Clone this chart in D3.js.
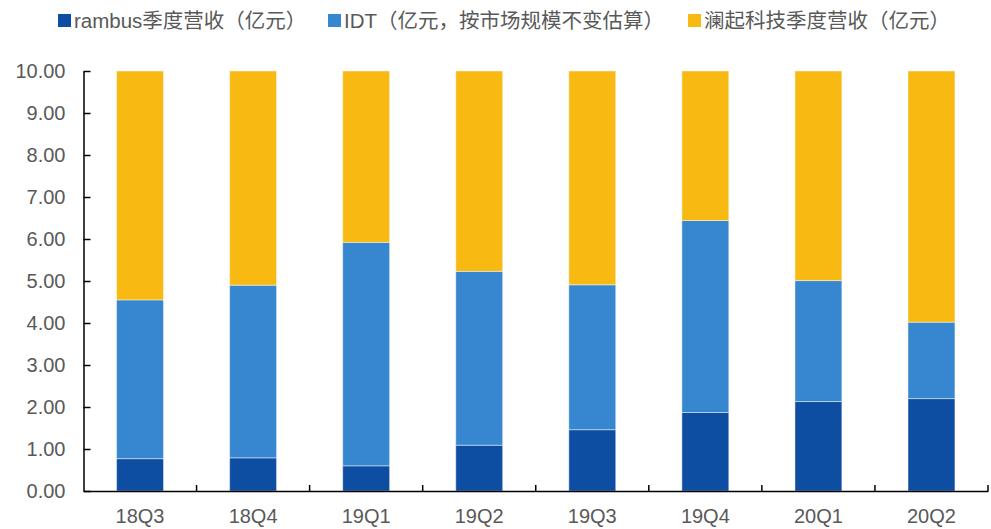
<!DOCTYPE html>
<html>
<head>
<meta charset="utf-8">
<script src="https://cdn.jsdelivr.net/npm/d3@7"></script>
<style>
  body { margin: 0; background: #fff; }
  svg { font-family: "Liberation Sans", Arial, "Noto Sans CJK SC", sans-serif; }
</style>
</head>
<body>
<svg id="canvas" width="991" height="529"></svg>
<script>
let quarters = ['18Q3', '18Q4', '19Q1', '19Q2', '19Q3', '19Q4', '20Q1', '20Q2'];
let rambus = [0.77, 0.79, 0.60, 1.09, 1.46, 1.87, 2.13, 2.20];
let idt = [3.78, 4.11, 5.32, 4.14, 3.45, 4.57, 2.88, 1.82];
let lanqi = [5.45, 5.10, 4.08, 4.77, 5.09, 3.56, 4.99, 5.98];
let yTicks = [0, 1, 2, 3, 4, 5, 6, 7, 8, 9, 10];

let seriesNames = ['rambus季度营收（亿元）', 'IDT（亿元，按市场规模不变估算）', '澜起科技季度营收（亿元）'];
let keys = ['rambus', 'idt', 'lanqi'];
let colors = ['#0D4EA2', '#3786D0', '#F8B912'];

let canvas = d3.select('#canvas');

let plotLeft = 83.5, plotRight = 988, plotTop = 71, plotBottom = 491;

let x = d3.scaleBand().domain(quarters).range([plotLeft, plotRight]).paddingInner(0.585).paddingOuter(0.2925);
let y = d3.scaleLinear().domain([0, 10]).range([plotBottom, plotTop]);

let rows = quarters.map((q, i) => ({ q: q, rambus: rambus[i], idt: idt[i], lanqi: lanqi[i] }));
let stacked = d3.stack().keys(keys)(rows);

canvas.selectAll('g.layer')
    .data(stacked)
    .enter()
    .append('g')
    .attr('class', 'layer')
    .attr('fill', (d, i) => colors[i])
    .selectAll('rect')
    .data(d => d)
    .enter()
    .append('rect')
    .attr('x', d => x(d.data.q))
    .attr('width', x.bandwidth())
    .attr('y', d => y(d[1]))
    .attr('height', d => y(d[0]) - y(d[1]))
    .attr('stroke', '#ffffff')
    .attr('stroke-opacity', 0.45)
    .attr('stroke-width', 1);

// y axis, ticks point inward
let yAxis = canvas.append('g')
    .attr('transform', 'translate(' + plotLeft + ',0)')
    .call(d3.axisLeft(y).tickValues(yTicks).tickFormat(d3.format('.2f')).tickSize(-7).tickSizeOuter(0));
yAxis.select('.domain').attr('stroke', '#000').attr('stroke-width', 1.5);
yAxis.selectAll('.tick line').attr('stroke', '#000').attr('stroke-width', 1.5);
yAxis.selectAll('.tick text')
    .attr('x', -18)
    .attr('fill', '#595959')
    .style('font-size', '20px');

// x axis
let xAxis = canvas.append('g')
    .attr('transform', 'translate(0,' + plotBottom + ')')
    .call(d3.axisBottom(x).tickSize(0).tickSizeOuter(0));
xAxis.select('.domain').attr('stroke', '#000').attr('stroke-width', 1.5);
xAxis.selectAll('.tick text')
    .attr('y', 18)
    .attr('fill', '#595959')
    .style('font-size', '20px');

// tick marks between categories, pointing up
let step = x.step();
let boundaries = d3.range(1, quarters.length + 1).map(i => plotLeft + i * step);
canvas.append('g')
    .selectAll('line')
    .data(boundaries)
    .enter()
    .append('line')
    .attr('x1', d => d)
    .attr('x2', d => d)
    .attr('y1', plotBottom)
    .attr('y2', plotBottom - 6)
    .attr('stroke', '#000')
    .attr('stroke-width', 1.5);

// legend
let legendX = [58, 328, 688];
let legend = canvas.append('g').selectAll('g')
    .data(seriesNames)
    .enter()
    .append('g')
    .attr('transform', (d, i) => 'translate(' + legendX[i] + ',0)');
legend.append('rect')
    .attr('x', 0)
    .attr('y', 14)
    .attr('width', 13)
    .attr('height', 13)
    .attr('fill', (d, i) => colors[i]);
legend.append('text')
    .attr('x', 16)
    .attr('y', 28)
    .attr('fill', '#595959')
    .style('font-size', '20.5px')
    .text(d => d);
</script>
</body>
</html>
